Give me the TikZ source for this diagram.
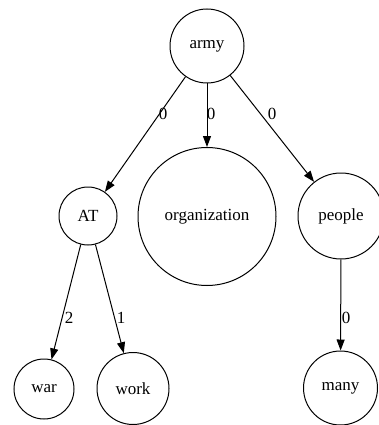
\documentclass[tikz,border=0pt]{standalone}
\usepackage{fontspec}
\setmainfont{Liberation Serif}
\usetikzlibrary{arrows.meta}
\begin{document}
\begin{tikzpicture}[x=1pt,y=-1pt,
  vnode/.style={draw,circle,line width=1pt,inner sep=0pt,font=\fontsize{17}{20}\selectfont},
  elabel/.style={inner sep=0pt,font=\fontsize{17}{20}\selectfont},
  conn/.style={line width=1pt,-{Triangle[length=11pt,width=8pt]}}]
\useasboundingbox[fill=white] (0,0) rectangle (378,425);
\node[vnode,minimum size=74pt] (army) at (207,46) {army};
\node[vnode,minimum size=58pt] (AT) at (88,216) {AT};
\node[vnode,minimum size=138pt] (org) at (207,216.5) {organization};
\node[vnode,minimum size=86pt] (people) at (341,216) {people};
\node[vnode,minimum size=60pt] (war) at (44,389) {war};
\node[vnode,minimum size=72pt] (work) at (133,388.5) {work};
\node[vnode,minimum size=74pt] (many) at (340.5,388) {many};
\draw[conn] (army) -- (AT);
\draw[conn] (army) -- (org);
\draw[conn] (army) -- (people);
\draw[conn] (AT) -- (war);
\draw[conn] (AT) -- (work);
\draw[conn] (people) -- (many);
\node[elabel] (l1) at (163,114) {0};
\node[elabel] (l2) at (211,114) {0};
\node[elabel] (l3) at (272,114) {0};
\node[elabel] (l4) at (69,318) {2};
\node[elabel] (l5) at (121,318) {1};
\node[elabel] (l6) at (346,318) {0};
\end{tikzpicture}
\end{document}
